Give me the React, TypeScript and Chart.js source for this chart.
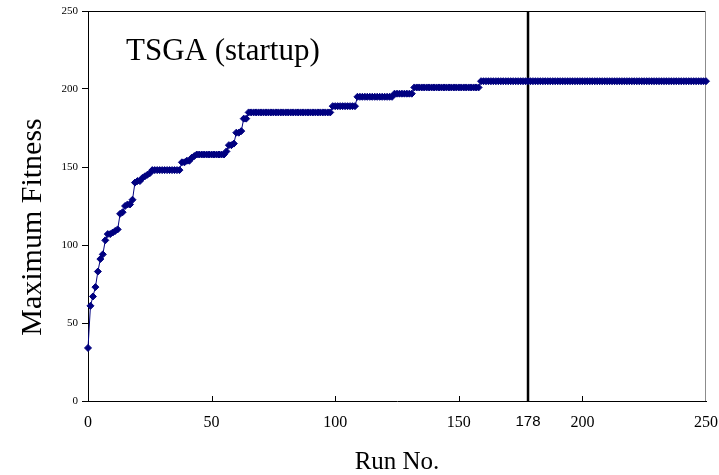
import React, { useEffect, useRef } from "react";
import { Chart, registerables } from "chart.js";

Chart.register(...registerables);

// Maximum fitness per run, runs 0..250
const fitness: number[] = [
  34, 61, 67, 73, 83, 91, 94, 103, 107, 107,
  108, 109, 110, 120, 121, 125, 126, 126, 129, 140,
  141, 141, 143, 144, 145, 146, 148, 148, 148, 148,
  148, 148, 148, 148, 148, 148, 148, 148, 153, 153,
  154, 154, 156, 157, 158, 158, 158, 158, 158, 158,
  158, 158, 158, 158, 158, 158, 160, 164, 164, 165,
  172, 172, 173, 181, 181, 185, 185, 185, 185, 185,
  185, 185, 185, 185, 185, 185, 185, 185, 185, 185,
  185, 185, 185, 185, 185, 185, 185, 185, 185, 185,
  185, 185, 185, 185, 185, 185, 185, 185, 185, 189,
  189, 189, 189, 189, 189, 189, 189, 189, 189, 195,
  195, 195, 195, 195, 195, 195, 195, 195, 195, 195,
  195, 195, 195, 195, 197, 197, 197, 197, 197, 197,
  197, 197, 201, 201, 201, 201, 201, 201, 201, 201,
  201, 201, 201, 201, 201, 201, 201, 201, 201, 201,
  201, 201, 201, 201, 201, 201, 201, 201, 201, 205,
  205, 205, 205, 205, 205, 205, 205, 205, 205, 205,
  205, 205, 205, 205, 205, 205, 205, 205, 205, 205,
  205, 205, 205, 205, 205, 205, 205, 205, 205, 205,
  205, 205, 205, 205, 205, 205, 205, 205, 205, 205,
  205, 205, 205, 205, 205, 205, 205, 205, 205, 205,
  205, 205, 205, 205, 205, 205, 205, 205, 205, 205,
  205, 205, 205, 205, 205, 205, 205, 205, 205, 205,
  205, 205, 205, 205, 205, 205, 205, 205, 205, 205,
  205, 205, 205, 205, 205, 205, 205, 205, 205, 205,
  205,
];
const runs: number[] = fitness.map((_, i) => i);

const xTickValues = [0, 50, 100, 150, 178, 200, 250];
const yTickValues = [0, 50, 100, 150, 200, 250];
const markerRun = 178;
const chartLabel = "TSGA (startup)";
const xTitle = "Run No.";
const yTitle = "Maximum Fitness";

const SERIF = "'Liberation Serif', 'Times New Roman', serif";
const SANS = "'Liberation Sans', Arial, sans-serif";
const NAVY = "#000080";

export default function App() {
  const ref = useRef<HTMLCanvasElement>(null);

  useEffect(() => {
    if (!ref.current) return;

    const overlay = {
      id: "overlay",
      beforeDatasetsDraw(chart: any) {
        const { ctx, chartArea, scales } = chart;
        const xs = scales.x;
        ctx.save();
        // top border
        ctx.strokeStyle = "#000";
        ctx.lineWidth = 1;
        ctx.beginPath();
        ctx.moveTo(chartArea.left, Math.round(chartArea.top) + 0.5);
        ctx.lineTo(chartArea.right, Math.round(chartArea.top) + 0.5);
        ctx.stroke();
        // right border (grey)
        ctx.strokeStyle = "#8c8c8c";
        ctx.beginPath();
        ctx.moveTo(Math.round(chartArea.right) - 0.5, chartArea.top);
        ctx.lineTo(Math.round(chartArea.right) - 0.5, chartArea.bottom);
        ctx.stroke();
        // inward x tick marks
        ctx.strokeStyle = "#000";
        xTickValues.forEach((v) => {
          if (v === xTickValues[0] || v === xTickValues[xTickValues.length - 1] || v === markerRun) return;
          const px = Math.round(xs.getPixelForValue(v)) + 0.5;
          ctx.beginPath();
          ctx.moveTo(px, chartArea.bottom);
          ctx.lineTo(px, chartArea.bottom - 5);
          ctx.stroke();
        });
        // vertical marker line at run 178
        const mx = xs.getPixelForValue(markerRun);
        ctx.lineWidth = 2.5;
        ctx.strokeStyle = "#000";
        ctx.beginPath();
        ctx.moveTo(mx, chartArea.top);
        ctx.lineTo(mx, chartArea.bottom);
        ctx.stroke();
        ctx.restore();
      },
      afterDraw(chart: any) {
        const { ctx, chartArea } = chart;
        ctx.save();
        // in-plot label
        ctx.fillStyle = "#000";
        ctx.font = `31px ${SERIF}`;
        ctx.textAlign = "left";
        ctx.textBaseline = "alphabetic";
        ctx.fillText(chartLabel, chartArea.left + 38, chartArea.top + 49);
        // y axis title
        ctx.font = `30px ${SERIF}`;
        ctx.textAlign = "center";
        ctx.textBaseline = "middle";
        ctx.translate(33, (chartArea.top + chartArea.bottom) / 2 + 21);
        ctx.rotate(-Math.PI / 2);
        ctx.fillText(yTitle, 0, 0);
        ctx.restore();
      },
    };

    const chart = new Chart(ref.current, {
      type: "line",
      data: {
        datasets: [
          {
            label: "Maximum Fitness",
            data: runs.map((r, i) => ({ x: r, y: fitness[i] })),
            borderColor: NAVY,
            backgroundColor: NAVY,
            borderWidth: 1,
            pointStyle: "rectRot",
            pointRadius: 3.5,
            pointBorderWidth: 1,
            pointBackgroundColor: NAVY,
            pointBorderColor: NAVY,
            tension: 0,
            clip: 8,
          },
        ],
      },
      options: {
        responsive: false,
        animation: false,
        devicePixelRatio: 1,
        layout: { padding: { top: 11, right: 0, left: 0, bottom: 0 } },
        plugins: {
          legend: { display: false },
          tooltip: { enabled: false },
          title: { display: false },
        },
        scales: {
          x: {
            type: "linear",
            min: 0,
            max: 250,
            afterBuildTicks: (scale: any) => {
              scale.ticks = xTickValues.map((v) => ({ value: v }));
            },
            afterFit: (scale: any) => {
              scale.height = 74;
              scale.paddingRight = 13;
            },
            grid: { display: false, drawTicks: false },
            border: { display: true, color: "#000", width: 1 },
            ticks: {
              autoSkip: false,
              maxRotation: 0,
              padding: 12,
              color: "#000",
              font: (ctx: any) =>
                ctx.tick && ctx.tick.value === markerRun
                  ? { family: SANS, size: 15 }
                  : { family: SERIF, size: 16 },
              callback: (v: any) => String(v),
            },
            title: {
              display: true,
              text: xTitle,
              color: "#000",
              font: { family: SERIF, size: 25, lineHeight: 1 },
              padding: { top: 0, bottom: 0 },
            },
          },
          y: {
            type: "linear",
            min: 0,
            max: 250,
            afterBuildTicks: (scale: any) => {
              scale.ticks = yTickValues.map((v) => ({ value: v }));
            },
            afterFit: (scale: any) => {
              scale.width = 88;
            },
            grid: {
              display: true,
              drawOnChartArea: false,
              drawTicks: true,
              tickLength: 6,
              color: "#000",
            },
            border: { display: true, color: "#000", width: 1 },
            ticks: {
              padding: 4,
              color: "#000",
              font: { family: SERIF, size: 11 },
            },
          },
        },
      },
      plugins: [overlay],
    } as any);

    return () => chart.destroy();
  }, []);

  return (
    <div
      style={{
        position: "absolute",
        left: 0,
        top: 0,
        width: 719,
        height: 475,
        background: "#fff",
      }}
    >
      <canvas ref={ref} width={719} height={475} style={{ display: "block", width: 719, height: 475 }} />
    </div>
  );
}
